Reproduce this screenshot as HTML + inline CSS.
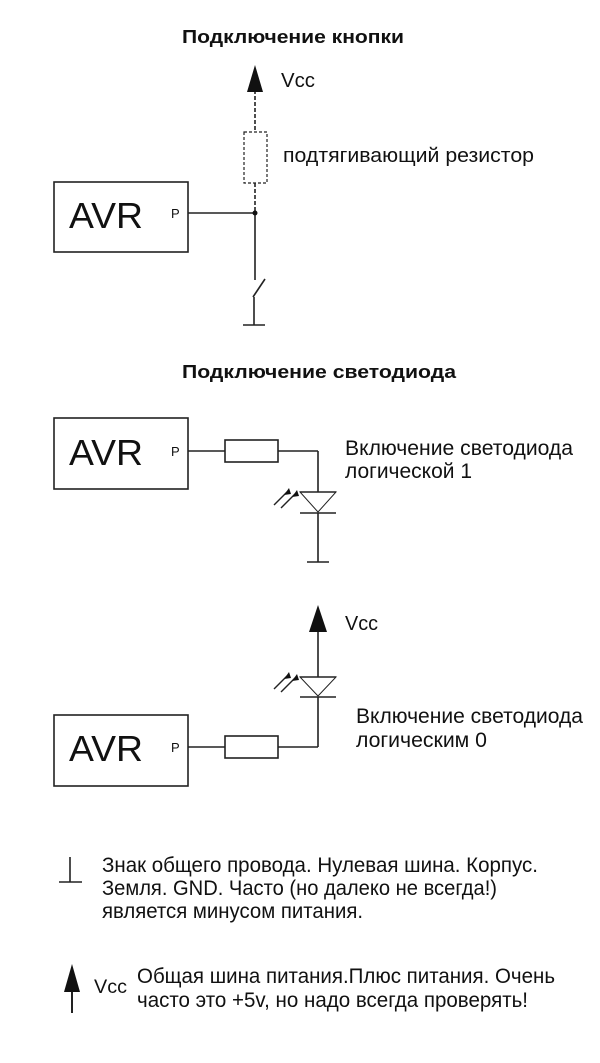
<!DOCTYPE html>
<html><head><meta charset="utf-8"><style>
html,body{margin:0;padding:0;background:#fff}
svg{display:block}
text{font-family:"Liberation Sans",Arial,sans-serif;fill:#111}
</style></head><body>
<svg width="600" height="1063" viewBox="0 0 600 1063" xmlns="http://www.w3.org/2000/svg">
<g stroke="#222" stroke-width="1.6" fill="none">
<rect x="54" y="182" width="134" height="70"/>
<line x1="188" y1="213" x2="255" y2="213"/>
<line x1="255" y1="90" x2="255" y2="132" stroke-dasharray="4,2"/>
<rect x="244" y="132" width="23" height="51" stroke-dasharray="3,2" stroke-width="1.2"/>
<line x1="255" y1="183" x2="255" y2="213" stroke-dasharray="4,2"/>
<line x1="255" y1="213" x2="255" y2="280"/>
<line x1="253" y1="297" x2="265" y2="279"/>
<line x1="254" y1="297" x2="254" y2="325"/>
<line x1="243" y1="325" x2="265" y2="325"/>
<rect x="54" y="418" width="134" height="71"/>
<line x1="188" y1="451" x2="225" y2="451"/>
<rect x="225" y="440" width="53" height="22"/>
<line x1="278" y1="451" x2="318" y2="451"/>
<line x1="318" y1="451" x2="318" y2="492"/>
<line x1="300" y1="492" x2="336" y2="492"/>
<polygon points="300,492 336,492 318,512" stroke-width="1"/>
<line x1="300" y1="513" x2="336" y2="513"/>
<line x1="318" y1="513" x2="318" y2="562"/>
<line x1="307" y1="562" x2="329" y2="562"/>
<line x1="318" y1="630" x2="318" y2="677"/>
<line x1="300" y1="677" x2="336" y2="677"/>
<polygon points="300,677 336,677 318,696" stroke-width="1"/>
<line x1="300" y1="697" x2="336" y2="697"/>
<line x1="318" y1="697" x2="318" y2="747"/>
<line x1="278" y1="747" x2="318" y2="747"/>
<rect x="225" y="736" width="53" height="22"/>
<line x1="188" y1="747" x2="225" y2="747"/>
<rect x="54" y="715" width="134" height="71"/>
<line x1="70" y1="857" x2="70" y2="882"/>
<line x1="59" y1="882" x2="82" y2="882"/>
<line x1="72" y1="988" x2="72" y2="1013" stroke-width="2"/>
<g stroke-width="1.4">
<line x1="274" y1="505" x2="287" y2="492"/>
<line x1="281" y1="508" x2="295" y2="494"/>
<line x1="274" y1="689" x2="287" y2="676"/>
<line x1="281" y1="692" x2="295" y2="678"/>
</g>
</g>
<g fill="#111">
<polygon points="255,65 247,92 263,92"/>
<circle cx="255" cy="213" r="2.5"/>
<polygon points="318,605 309,632 327,632"/>
<polygon points="72,964 64,992 80,992"/>
<polygon points="289,488 284,495 291,494"/>
<polygon points="297,490 292,497 299,496"/>
<polygon points="289,672 284,679 291,678"/>
<polygon points="297,674 292,681 299,680"/>
</g>
<text x="182" y="43" font-size="18" font-weight="bold" textLength="222" lengthAdjust="spacingAndGlyphs">Подключение кнопки</text>
<text x="281" y="87" font-size="20" textLength="34" lengthAdjust="spacingAndGlyphs">Vcc</text>
<text x="283" y="162" font-size="20.5" textLength="251" lengthAdjust="spacingAndGlyphs">подтягивающий резистор</text>
<text x="69" y="228" font-size="36" textLength="74" lengthAdjust="spacingAndGlyphs">AVR</text>
<text x="171" y="218" font-size="13">P</text>
<text x="182" y="378" font-size="18" font-weight="bold" textLength="274" lengthAdjust="spacingAndGlyphs">Подключение светодиода</text>
<text x="69" y="465" font-size="36" textLength="74" lengthAdjust="spacingAndGlyphs">AVR</text>
<text x="171" y="456" font-size="13">P</text>
<text x="345" y="455" font-size="21" textLength="228" lengthAdjust="spacingAndGlyphs">Включение светодиода</text>
<text x="345" y="478" font-size="21" textLength="127" lengthAdjust="spacingAndGlyphs">логической 1</text>
<text x="345" y="630" font-size="20" textLength="33" lengthAdjust="spacingAndGlyphs">Vcc</text>
<text x="356" y="723" font-size="21" textLength="227" lengthAdjust="spacingAndGlyphs">Включение светодиода</text>
<text x="356" y="747" font-size="21" textLength="131" lengthAdjust="spacingAndGlyphs">логическим 0</text>
<text x="69" y="761" font-size="36" textLength="74" lengthAdjust="spacingAndGlyphs">AVR</text>
<text x="171" y="752" font-size="13">P</text>
<text x="102" y="872" font-size="21" textLength="436" lengthAdjust="spacingAndGlyphs">Знак общего провода. Нулевая шина. Корпус.</text>
<text x="102" y="895" font-size="21" textLength="395" lengthAdjust="spacingAndGlyphs">Земля. GND. Часто (но далеко не всегда!)</text>
<text x="102" y="918" font-size="21" textLength="261" lengthAdjust="spacingAndGlyphs">является минусом питания.</text>
<text x="94" y="993" font-size="19" textLength="33" lengthAdjust="spacingAndGlyphs">Vcc</text>
<text x="137" y="983" font-size="21" textLength="418" lengthAdjust="spacingAndGlyphs">Общая шина питания.Плюс питания. Очень</text>
<text x="137" y="1007" font-size="21" textLength="391" lengthAdjust="spacingAndGlyphs">часто это +5v, но надо всегда проверять!</text>
</svg>
</body></html>
